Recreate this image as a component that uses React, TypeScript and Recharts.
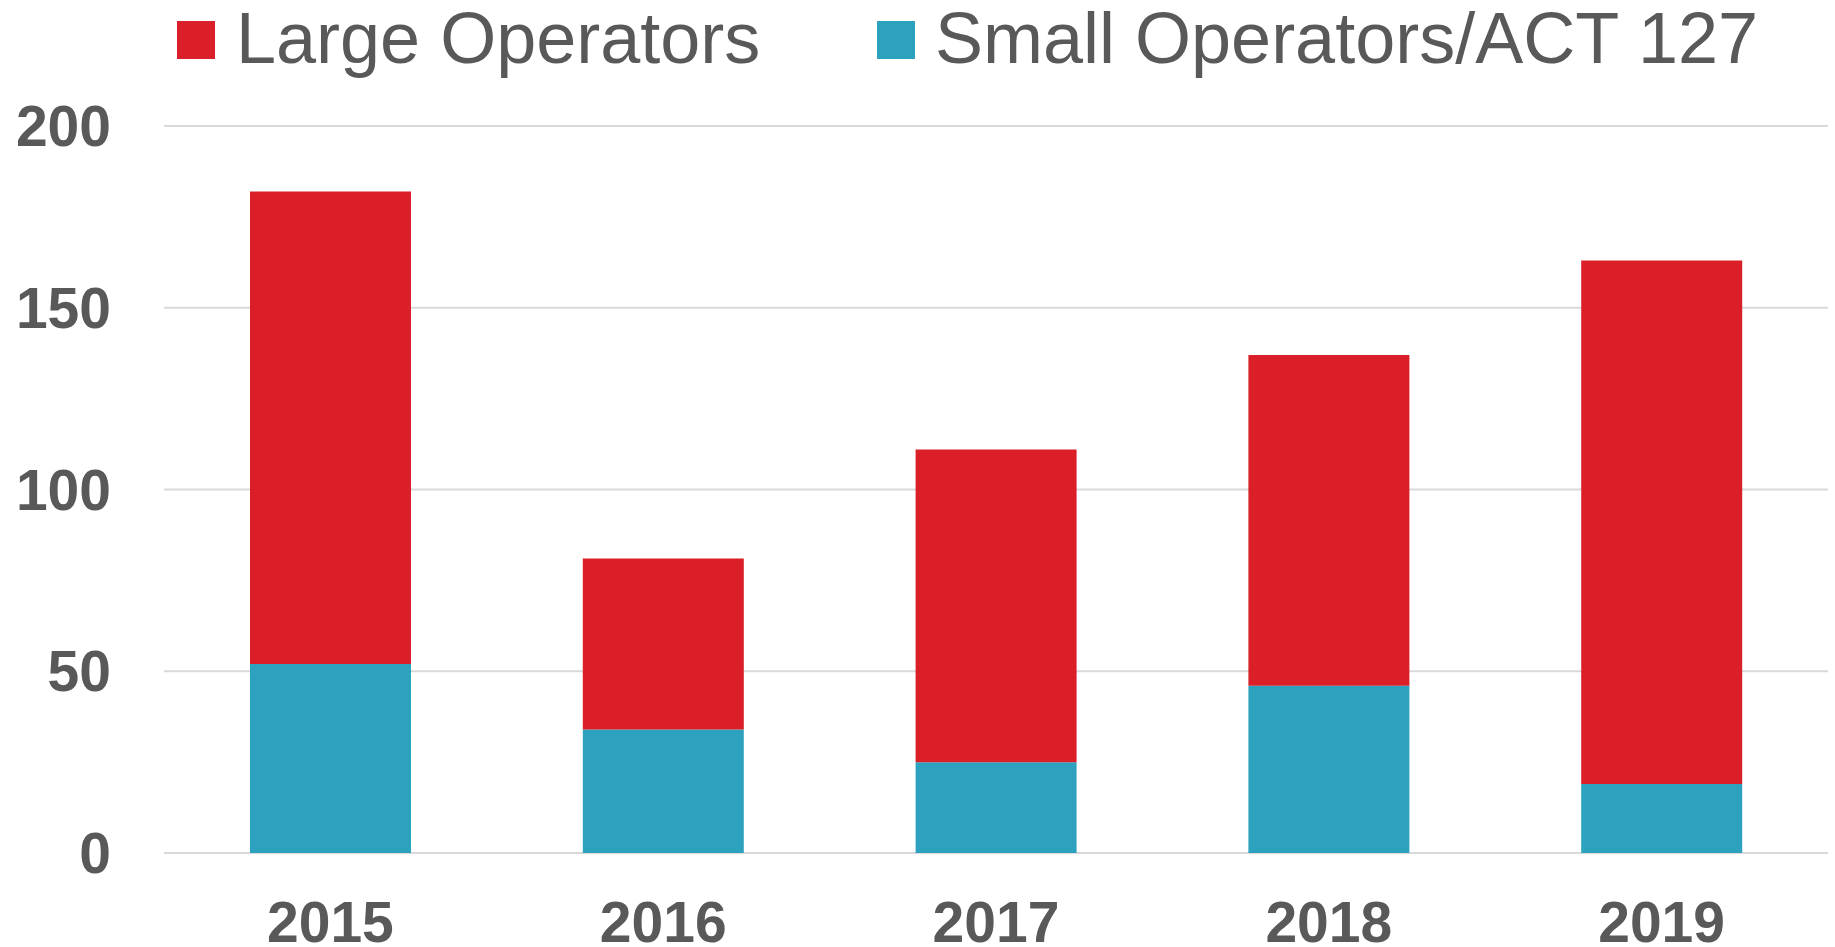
import React from 'react'
import { BarChart, Bar, XAxis, YAxis, CartesianGrid, Legend } from 'recharts'

const years = ['2015', '2016', '2017', '2018', '2019']
const largeOperators = [130, 47, 86, 91, 144]
const smallOperators = [52, 34, 25, 46, 19]
const yTicks = [0, 50, 100, 150, 200]

const RED = '#DA1F28'
const TEAL = '#2CA2BF'
const TEXT = '#595959'
const FONT = '"Liberation Sans", Arial, sans-serif'

const data = years.map((year, i) => ({
  year,
  large: largeOperators[i],
  small: smallOperators[i],
}))

// legend drawn as html, placed like the original
const LegendContent = () => {
  const items = [
    { label: 'Large Operators', color: RED, box: 177, text: 236 },
    { label: 'Small Operators/ACT 127', color: TEAL, box: 877, text: 935 },
  ]
  return (
    <div style={{ position: 'relative', width: 1835, height: 126, fontFamily: FONT }}>
      {items.map((it) => (
        <React.Fragment key={it.label}>
          <div
            style={{
              position: 'absolute',
              left: it.box,
              top: 21,
              width: 38,
              height: 38,
              background: it.color,
            }}
          />
          <span
            style={{
              position: 'absolute',
              left: it.text,
              top: 2,
              fontSize: 72,
              lineHeight: '72px',
              color: TEXT,
              whiteSpace: 'nowrap',
            }}
          >
            {it.label}
          </span>
        </React.Fragment>
      ))}
    </div>
  )
}

export default function App() {
  return (
    <div style={{ position: 'absolute', left: 0, top: 0, width: 1835, height: 947, background: '#fff' }}>
      <BarChart
        width={1835}
        height={947}
        data={data}
        margin={{ top: 0, right: 7, left: 0, bottom: 0 }}
      >
        <Legend
          verticalAlign="top"
          content={<LegendContent />}
          wrapperStyle={{ left: 0, top: 0, width: 1835, height: 126 }}
        />
        <CartesianGrid vertical={false} stroke="#d9d9d9" strokeWidth={2} />
        <XAxis
          dataKey="year"
          height={94}
          axisLine={false}
          tickLine={false}
          tickSize={0}
          tickMargin={49}
          tick={{ fill: TEXT, fontSize: 57, fontWeight: 'bold', fontFamily: FONT }}
        />
        <YAxis
          width={164}
          domain={[0, 200]}
          ticks={yTicks}
          axisLine={false}
          tickLine={false}
          tickSize={0}
          tickMargin={53}
          tick={{ fill: TEXT, fontSize: 57, fontWeight: 'bold', fontFamily: FONT }}
        />
        <Bar dataKey="small" stackId="a" fill={TEAL} barSize={161} isAnimationActive={false} />
        <Bar dataKey="large" stackId="a" fill={RED} barSize={161} isAnimationActive={false} />
      </BarChart>
    </div>
  )
}
